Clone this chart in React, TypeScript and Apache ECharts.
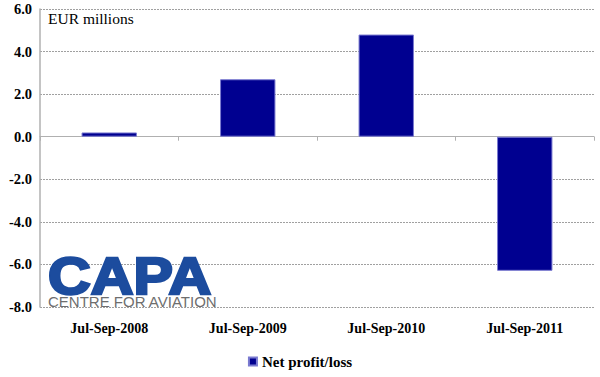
import React, { useEffect, useRef } from "react";
import * as echarts from "echarts";

const categories = ["Jul-Sep-2008", "Jul-Sep-2009", "Jul-Sep-2010", "Jul-Sep-2011"];
const netProfit = [0.2, 2.7, 4.8, -6.3];
const seriesName = "Net profit/loss";
const unitLabel = "EUR millions";

export default function App() {
  const ref = useRef<HTMLDivElement>(null);
  useEffect(() => {
    if (!ref.current) return;
    const chart = echarts.init(ref.current, null, { renderer: "svg" });
    const serif = "Liberation Serif";
    const sans = "Liberation Sans";
    chart.setOption({
      animation: false,
      backgroundColor: "#ffffff",
      textStyle: { fontFamily: serif },
      grid: { left: 40, right: 6, top: 9, bottom: 70 },
      legend: {
        data: [{ name: seriesName, icon: "rect" }],
        bottom: 3,
        left: "center",
        itemWidth: 8,
        itemHeight: 8,
        itemGap: 4,
        textStyle: { fontFamily: serif, fontWeight: "bold", fontSize: 15, color: "#000" },
      },
      xAxis: [
        {
          type: "category",
          data: categories,
          axisLine: { show: true, onZero: true, lineStyle: { color: "#b0b0b0", width: 1 } },
          axisTick: { show: true, length: 4, lineStyle: { color: "#b0b0b0" } },
          axisLabel: { show: false },
        },
        {
          type: "category",
          data: categories,
          position: "bottom",
          axisLine: { show: false, onZero: false },
          axisTick: { show: false },
          axisLabel: {
            show: true,
            margin: 14,
            fontFamily: serif,
            fontWeight: "bold",
            fontSize: 14,
            color: "#000",
          },
        },
      ],
      yAxis: {
        type: "value",
        min: -8,
        max: 6,
        interval: 2,
        axisLine: { show: true, lineStyle: { color: "#b0b0b0", width: 1.5 } },
        axisTick: { show: false },
        axisLabel: {
          formatter: (v: number) => v.toFixed(1),
          fontFamily: serif,
          fontWeight: "bold",
          fontSize: 14.5,
          color: "#000",
          margin: 8,
        },
        splitLine: { show: true, lineStyle: { color: "#a0a0a0", type: [2, 1], width: 1 } },
      },
      series: [
        {
          name: seriesName,
          type: "bar",
          data: netProfit,
          xAxisIndex: 0,
          barCategoryGap: "60%",
          itemStyle: { color: "#000090", borderColor: "#7a7ad0", borderWidth: 1 },
        },
      ],
      graphic: [
        {
          type: "text",
          left: 48,
          top: 10,
          style: { text: unitLabel, fontFamily: serif, fontSize: 15.5, fill: "#000" },
        },
        {
          type: "text",
          x: 48,
          y: 251,
          scaleX: 1.16,
          style: {
            text: "CAPA",
            fontFamily: sans,
            fontWeight: "bold",
            fontSize: 51,
            fill: "#1c4c9e",
            stroke: "#1c4c9e",
            lineWidth: 2.5,
            verticalAlign: "top",
          },
          z: 100,
        },
        {
          type: "text",
          x: 48,
          y: 294,
          style: {
            text: "CENTRE FOR AVIATION",
            fontFamily: sans,
            fontSize: 15,
            fill: "#6e6e6e",
            verticalAlign: "top",
          },
          z: 100,
        },
      ],
    });
    return () => chart.dispose();
  }, []);
  return <div ref={ref} style={{ position: "absolute", left: 0, top: 0, width: 600, height: 377 }} />;
}
